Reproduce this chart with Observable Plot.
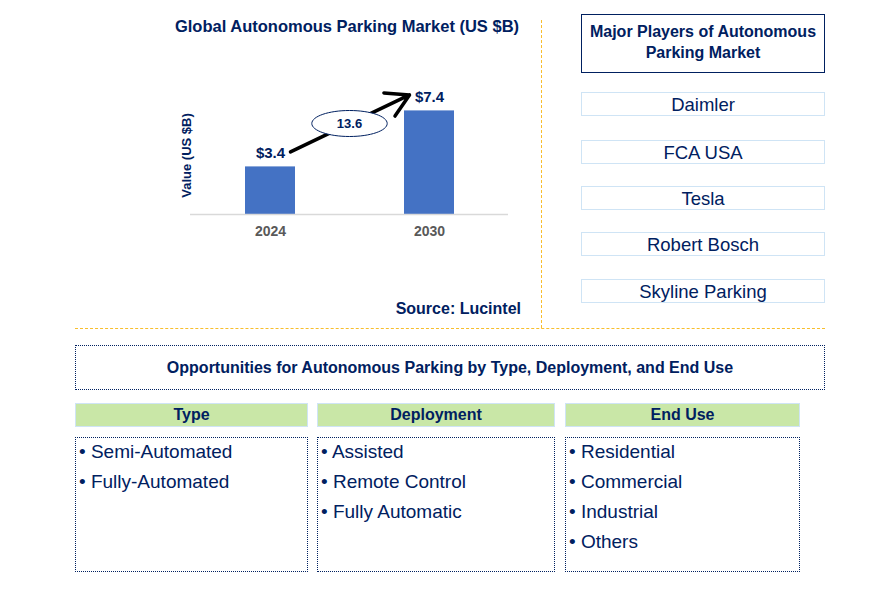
<!DOCTYPE html>
<html>
<head>
<meta charset="utf-8">
<script src="https://cdn.jsdelivr.net/npm/d3@7"></script>
<script src="https://cdn.jsdelivr.net/npm/@observablehq/plot@0.6"></script>
<style>
  html, body { margin: 0; padding: 0; background: #fff; }
  body { width: 889px; height: 592px; position: relative; overflow: hidden;
         font-family: "Liberation Sans", Arial, sans-serif; color: #002060; }
  .abs { position: absolute; box-sizing: border-box; }
  .title { font-size: 16.5px; font-weight: bold; line-height: 20px; text-align: center; }
  .players-head { border: 1.5px solid #002060; font-size: 16px; font-weight: bold; line-height: 21px;
                  text-align: center; display: flex; align-items: center; justify-content: center; padding-bottom: 3px; }
  .player { border: 1.5px solid #CFE4F5; font-size: 18.5px; text-align: center; line-height: 23px; }
  .opp { border: 1px dotted #002060; font-size: 16px; font-weight: bold; text-align: center;
         display: flex; align-items: center; justify-content: center; }
  .seghead { background: #C9E7A7; border: 1.5px solid #CFE4F5; font-size: 16px; font-weight: bold;
             text-align: center; line-height: 21px; }
  .segbox { border: 1px dotted #002060; font-size: 19px; padding: 3px 0 0 3px; }
  .segbox div { height: 30px; line-height: 22px; }
</style>
</head>
<body>
<div id="chart" class="abs" style="left:0;top:0;"></div>
<div id="overlay"></div>
<script>
// ---- Data ----
const years = ["2024", "2030"];
const marketValues = [3.4, 7.4];
const cagr = 13.6;
const chartTitle = "Global Autonomous Parking Market (US $B)";
const yLabel = "Value (US $B)";
const source = "Source: Lucintel";
const playersTitle = "Major Players of Autonomous Parking Market";
const players = ["Daimler", "FCA USA", "Tesla", "Robert Bosch", "Skyline Parking"];
const oppTitle = "Opportunities for Autonomous Parking by Type, Deployment, and End Use";
const segments = ["Type", "Deployment", "End Use"];
const typeItems = ["Semi-Automated", "Fully-Automated"];
const deploymentItems = ["Assisted", "Remote Control", "Fully Automatic"];
const endUseItems = ["Residential", "Commercial", "Industrial", "Others"];

const data = years.map((year, i) => ({year, value: marketValues[i]}));
const navy = "#002060";

// ellipse symbol for the CAGR bubble
const ellipse = {
  draw(ctx, size) {
    const r = Math.sqrt(size / Math.PI);
    const rx = r * 2.9, ry = r, kx = rx * 0.5523, ky = ry * 0.5523;
    ctx.moveTo(rx, 0);
    ctx.bezierCurveTo(rx, ky, kx, ry, 0, ry);
    ctx.bezierCurveTo(-kx, ry, -rx, ky, -rx, 0);
    ctx.bezierCurveTo(-rx, -ky, -kx, -ry, 0, -ry);
    ctx.bezierCurveTo(kx, -ry, rx, -ky, rx, 0);
    ctx.closePath();
  }
};

const chart = Plot.plot({
  width: 540,
  height: 250,
  marginLeft: 190,
  marginRight: 32,
  marginTop: 102,
  marginBottom: 36,
  style: {fontFamily: "Liberation Sans, Arial, sans-serif", background: "transparent", overflow: "visible"},
  x: {domain: years, paddingInner: 0.686, paddingOuter: 0.343, align: 0.5},
  y: {domain: [0, 8], axis: null},
  marks: [
    Plot.barY(data, {x: "year", y: "value", fill: "#4472C4"}),
    Plot.ruleY([0], {stroke: "#D9D9D9", strokeWidth: 1.5}),
    Plot.axisX({tickSize: 0, tickPadding: 12, fontSize: 14, fontWeight: "bold", fill: "#595959", label: null}),
    Plot.text(data, {x: "year", y: "value", text: d => "$" + d.value.toFixed(1), dy: -14,
      fontSize: 15, fontWeight: "bold", fill: navy}),
    Plot.arrow([{from: data[0], to: data[1]}], {
      x1: d => d.from.year, y1: d => d.from.value, x2: d => d.to.year, y2: d => d.to.value,
      stroke: "#000", strokeWidth: 3.5, headLength: 11,
      render(index, scales, values, dims, ctx, next) {
        const v = {...values,
          x1: Array.from(values.x1, x => x + 20), y1: Array.from(values.y1, y => y - 15),
          x2: Array.from(values.x2, x => x - 20), y2: Array.from(values.y2, y => y - 16)};
        return next(index, scales, v, dims, ctx);
      }
    }),
    Plot.dot([cagr], {frameAnchor: "middle", dy: -35, r: 13, symbol: ellipse,
      fill: "#fff", stroke: navy, strokeWidth: 1}),
    Plot.text([cagr], {frameAnchor: "middle", dy: -35, text: d => d.toFixed(1),
      fontSize: 13, fontWeight: "bold", fill: navy}),
    Plot.text([yLabel], {frameAnchor: "left", textAnchor: "middle", dx: -4, dy: -3, rotate: -90, text: d => d,
      fontSize: 13, fontWeight: "bold", fill: navy})
  ]
});
document.getElementById("chart").appendChild(chart);

// ---- Layout overlay ----
const ov = document.getElementById("overlay");
function box(cls, style, html) {
  const d = document.createElement("div");
  d.className = "abs " + cls;
  d.setAttribute("style", style);
  if (html !== undefined) d.innerHTML = html;
  ov.appendChild(d);
  return d;
}
box("title", "left:150px;top:16px;width:394px;", chartTitle);
box("title", "left:370px;top:299px;width:151px;text-align:right;font-size:16px;", source);
box("", "left:541px;top:20px;height:308px;width:1px;border-left:1.2px dashed #F8BE2E;");
box("", "left:75px;top:328px;width:750px;height:1px;border-top:1.2px dashed #F8BE2E;");
box("players-head", "left:581px;top:14px;width:244px;height:59px;", "Major Players of Autonomous<br>Parking Market");
const playerTops = [92, 140, 186, 232, 279];
players.forEach((p, i) => box("player", `left:581px;top:${playerTops[i]}px;width:244px;height:24px;`, p));
box("opp", "left:75px;top:345px;width:750px;height:45px;", oppTitle);
const segLeft = [75, 317, 565], segWidth = [233, 238, 235];
const segItems = [typeItems, deploymentItems, endUseItems];
segments.forEach((s, i) => {
  box("seghead", `left:${segLeft[i]}px;top:403px;width:${segWidth[i]}px;height:24px;`, s);
  const b = box("segbox", `left:${segLeft[i]}px;top:437px;width:${segWidth[i]}px;height:135px;`);
  segItems[i].forEach(t => {
    const r = document.createElement("div");
    r.textContent = "\u2022 " + t;
    b.appendChild(r);
  });
});
</script>
</body>
</html>
